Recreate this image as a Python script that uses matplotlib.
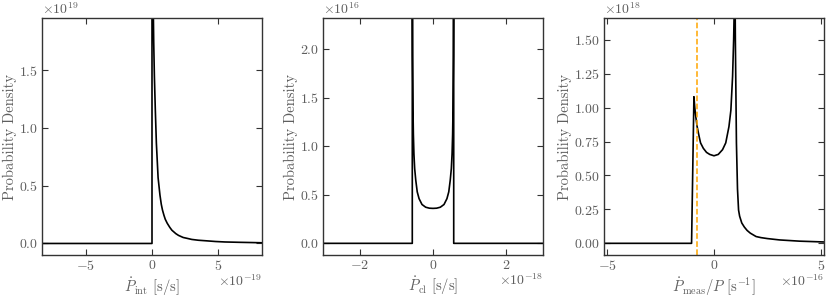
import numpy as np
import matplotlib
matplotlib.use("Agg")
import matplotlib.pyplot as plt
from matplotlib.ticker import ScalarFormatter, MultipleLocator

plt.rcParams.update({
    "font.family": "serif",
    "font.serif": ["cmr10", "DejaVu Serif"],
    "mathtext.fontset": "cm",
    "axes.formatter.use_mathtext": True,
    "axes.unicode_minus": True,
})

# Panel 1: intrinsic Pdot (x in 1e-19 s/s, y in 1e19)
x_int = [-8.3, 0.0, 0.0, 0.05, 0.10, 0.13, 0.18, 0.25, 0.33, 0.46, 0.60, 0.70, 0.79, 0.90,
         1.00, 1.15, 1.34, 1.50, 1.80, 2.00, 2.35, 2.70, 3.00, 3.50, 4.10, 4.80, 5.50,
         6.60, 7.50, 8.30]
y_int = [0.0, 0.0, 2.50, 2.30, 2.00, 1.74, 1.45, 1.16, 0.87, 0.57, 0.42, 0.34, 0.29, 0.245,
         0.21, 0.175, 0.14, 0.115, 0.085, 0.070, 0.052, 0.043, 0.035, 0.028, 0.023, 0.017,
         0.013, 0.010, 0.008, 0.006]

# Panel 2: Pdot_cl (x in 1e-18 s/s, y in 1e16)
x_cl = [-3.0, -0.565, -0.565, -0.56, -0.555, -0.545, -0.535, -0.52, -0.50, -0.47, -0.43,
        -0.38, -0.30, -0.20, -0.10, 0.0, 0.10, 0.20, 0.30, 0.38, 0.43, 0.47, 0.50, 0.52,
        0.535, 0.545, 0.555, 0.56, 0.565, 0.565, 3.0]
y_cl = [0.0, 0.0, 2.80, 2.71, 1.93, 1.36, 1.12, 0.92, 0.77, 0.65, 0.53,
        0.46, 0.40, 0.372, 0.362, 0.36, 0.362, 0.372, 0.40, 0.46, 0.53, 0.65, 0.77, 0.92,
        1.12, 1.36, 1.93, 2.71, 2.80, 0.0, 0.0]

# Panel 3: Pdot_meas / P (x in 1e-16 s^-1, y in 1e18)
x_meas = [-5.15, -1.05, -0.94, -0.90, -0.85, -0.79, -0.70, -0.63, -0.50, -0.35, -0.20, 0.0,
          0.20, 0.40, 0.55, 0.70, 0.79, 0.87, 0.92, 0.95, 0.98, 1.00, 1.05, 1.10, 1.15,
          1.20, 1.30, 1.42, 1.55, 1.70, 1.97, 2.20, 2.50, 3.07, 4.00, 5.15]
y_meas = [0.0, 0.0, 1.08, 1.00, 0.93, 0.86, 0.79, 0.74, 0.70, 0.67, 0.655, 0.645,
          0.655, 0.69, 0.74, 0.86, 0.98, 1.23, 1.50, 1.75, 2.00, 1.50, 0.74, 0.40, 0.245,
          0.20, 0.15, 0.12, 0.095, 0.075, 0.05, 0.042, 0.035, 0.025, 0.016, 0.010]
x_obs = -0.79  # measured value marker (1e-16)

GRAY = "#5e5e5e"
fig = plt.figure(figsize=(8.30, 2.97), dpi=100)
W, H = 830, 297
lefts = [42, 323, 604]
axes = [fig.add_axes([l / W, 42 / H, 220 / W, 237 / H]) for l in lefts]

axes[0].plot(np.array(x_int) * 1e-19, np.array(y_int) * 1e19, color="black", lw=1.2)
axes[0].set_xlim(-8.3e-19, 8.3e-19)
axes[0].set_ylim(-0.1e19, 1.955e19)
axes[0].yaxis.set_major_locator(MultipleLocator(0.5e19))
axes[0].xaxis.set_major_locator(MultipleLocator(5e-19))
axes[0].set_xlabel(r"$\dot{P}_\mathrm{int}$ [s/s]")

axes[1].plot(np.array(x_cl) * 1e-18, np.array(y_cl) * 1e16, color="black", lw=1.2)
axes[1].set_xlim(-3.0e-18, 3.0e-18)
axes[1].set_ylim(-0.12e16, 2.32e16)
axes[1].yaxis.set_major_locator(MultipleLocator(0.5e16))
axes[1].xaxis.set_major_locator(MultipleLocator(2e-18))
axes[1].set_xlabel(r"$\dot{P}_\mathrm{cl}$ [s/s]")

axes[2].plot(np.array(x_meas) * 1e-16, np.array(y_meas) * 1e18, color="black", lw=1.2)
axes[2].axvline(x_obs * 1e-16, color="orange", ls="--", lw=1.1)
axes[2].set_xlim(-5.15e-16, 5.15e-16)
axes[2].set_ylim(-0.086e18, 1.66e18)
axes[2].yaxis.set_major_locator(MultipleLocator(0.25e18))
axes[2].xaxis.set_major_locator(MultipleLocator(5e-16))
axes[2].set_xlabel(r"$\dot{P}_\mathrm{meas}/P$ [s$^{-1}$]")

for ax in axes:
    for ax_ in (ax.xaxis, ax.yaxis):
        fmt = ScalarFormatter(useMathText=True)
        ax_.set_major_formatter(fmt)
    ax.set_ylabel("Probability Density", color=GRAY, fontsize=10.5, labelpad=1)
    ax.xaxis.label.set_color(GRAY)
    ax.xaxis.label.set_fontsize(10.5)
    ax.xaxis.labelpad = 2
    ax.xaxis.OFFSETTEXTPAD = 0
    ax.tick_params(direction="in", top=True, right=True, labelsize=10,
                   labelcolor=GRAY, length=4, width=0.8, color="#333333", pad=3)
    ax.xaxis.get_offset_text().set_color(GRAY)
    ax.yaxis.get_offset_text().set_color(GRAY)
    ax.xaxis.get_offset_text().set_fontsize(10)
    ax.yaxis.get_offset_text().set_fontsize(10)
    for s in ax.spines.values():
        s.set_color("#333333")
        s.set_linewidth(1.0)

fig.savefig("out.png", dpi=100)
